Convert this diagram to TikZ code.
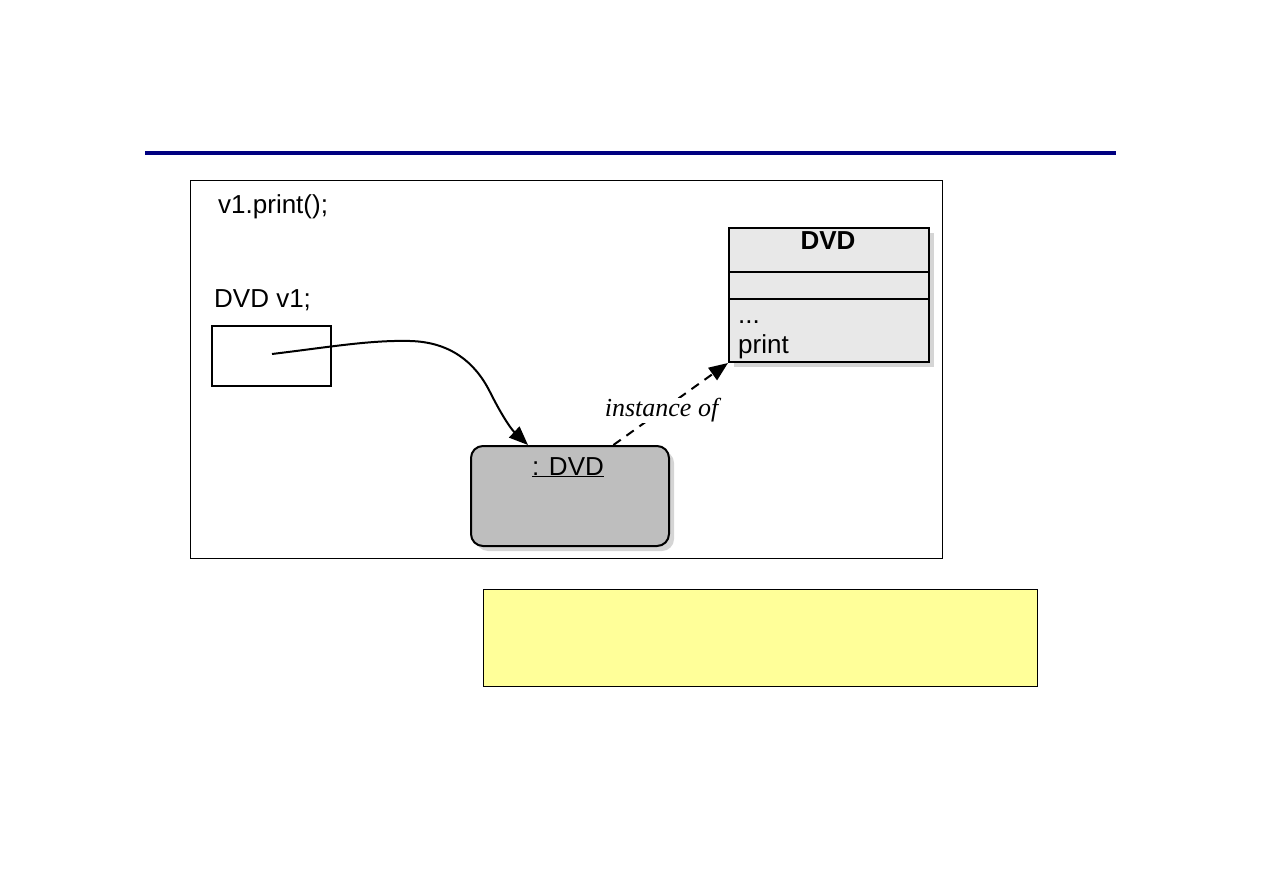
\documentclass[tikz,border=0pt]{standalone}
\usepackage{fontspec}
\setmainfont{Liberation Sans}
\newfontfamily\serifit{Liberation Serif}
\usetikzlibrary{arrows.meta,shadows,calc}
\definecolor{navyline}{RGB}{0,0,128}
\definecolor{objgray}{RGB}{190,190,190}
\definecolor{clsgray}{RGB}{232,232,232}
\definecolor{noteyellow}{RGB}{255,255,153}
\begin{document}
\begin{tikzpicture}[x=1pt,y=-1pt,
  txt/.style={font=\fontsize{26}{30}\selectfont, inner sep=0pt, anchor=base west},
  box/.style={draw, anchor=north west, inner sep=0pt},
  shadowed/.style={drop shadow={shadow xshift=5pt, shadow yshift=-5pt, fill=black!30, opacity=0.55}},
  tip/.style={-{Triangle[length=19pt,width=15pt]}},
]
\useasboundingbox (0,0) rectangle (1263,893);
% title rule
\draw[navyline, line width=4.5pt] (145,153) -- (1116,153);
% frame
\node[box, line width=1pt, minimum width=752pt, minimum height=378pt] (frame) at (190,180) {};
% code texts
\node[txt] (call) at (218,214) {v1.print();};
\node[txt] (decl) at (214,307) {DVD v1;};
% variable box
\node[box, line width=1.7pt, minimum width=119pt, minimum height=60pt] (var) at (211,325) {};
\coordinate (varref) at (272,354);
% object
\node[box, line width=2pt, rounded corners=12pt, fill=objgray, shadowed,
      minimum width=198pt, minimum height=100pt] (obj) at (470,445) {};
\node[font=\fontsize{26}{30}\selectfont, inner sep=0pt, anchor=base] (objname) at (568,475) {\underline{: DVD}};
% class
\node[box, line width=2pt, fill=clsgray, shadowed,
      minimum width=200pt, minimum height=134pt] (cls) at (728,227) {};
\draw[line width=1.7pt] (728,272) -- (928,272);
\draw[line width=1.7pt] (728,299) -- (928,299);
\node[font=\fontsize{26}{30}\selectfont\bfseries, inner sep=0pt, anchor=base] (clsname) at (828,250) {DVD};
\node[txt] (dots) at (738,323) {...};
\node[txt] (meth) at (738,353) {print};
% reference arrow
\coordinate (objtop) at ($(obj.north west)!0.29!(obj.north east)$);
\draw[line width=2pt, tip] (varref) .. controls (330,347) and (370,340) .. (410,341)
  .. controls (450,342) and (475,362) .. (490,392)
  .. controls (500,412) and (510,428) .. (objtop);
% instance-of arrow
\coordinate (objtop2) at ($(obj.north west)!0.717!(obj.north east)$);
\draw[line width=2pt, dash pattern=on 9pt off 7pt, tip] (objtop2) -- (cls.south west)
  node[pos=0.42, fill=white, inner sep=1pt, font=\fontsize{26}{30}\selectfont\serifit\itshape] (lbl) {instance of};
% note
\node[box, line width=1.2pt, fill=noteyellow, minimum width=554pt, minimum height=97pt] (note) at (483,589) {};
\end{tikzpicture}
\end{document}
